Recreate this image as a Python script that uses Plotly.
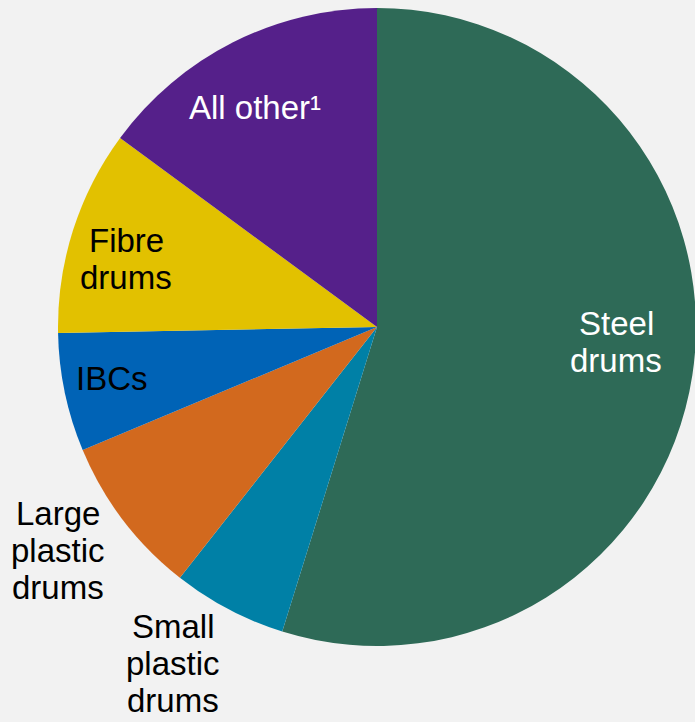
import plotly.graph_objects as go

W, H = 700, 722  # figure slightly wider than the 695px window; the overflow is clipped

categories = ["Steel drums", "Small plastic drums", "Large plastic drums", "IBCs", "Fibre drums", "All other"]
values = [54.8, 5.8, 8.1, 6.0, 10.4, 14.9]
colors = ["#2E6A57", "#0080A6", "#D2691E", "#0063B6", "#E2C100", "#55208A"]

# label lines (display text) per category
label_lines = [
    ["Steel", "drums"],
    ["Small", "plastic", "drums"],
    ["Large", "plastic", "drums"],
    ["IBCs"],
    ["Fibre", "drums"],
    ["All other\u00b9"],
]
label_colors = ["white", "black", "black", "black", "black", "white"]
# (center x px, first baseline y px)
label_pos = [(616, 335), (173, 638), (58, 525), (112, 390), (126, 252), (255, 119)]

FS = 33
LINE = 37

fig = go.Figure(go.Pie(
    labels=categories,
    values=values,
    marker=dict(colors=colors, line=dict(width=0)),
    sort=False,
    direction="clockwise",
    rotation=0,
    textinfo="none",
    hoverinfo="label+percent",
    showlegend=False,
    domain=dict(x=[58 / W, 696 / W], y=[1 - 646 / H, 1 - 8 / H]),
))

annotations = []
for lines, col, (cx, by) in zip(label_lines, label_colors, label_pos):
    for i, t in enumerate(lines):
        base = by + i * LINE
        mid = base - 0.36 * FS
        annotations.append(dict(
            x=cx / W, y=1 - mid / H, xref="paper", yref="paper",
            text=t, showarrow=False, xanchor="center", yanchor="middle",
            font=dict(family="Liberation Sans, Arial, sans-serif", size=FS, color=col),
        ))

fig.update_layout(
    width=W, height=H,
    margin=dict(l=0, r=0, t=0, b=0),
    paper_bgcolor="#F2F2F2",
    plot_bgcolor="#F2F2F2",
    annotations=annotations,
)

fig.write_html(
    "out.html",
    config={"displayModeBar": False},
    post_script="document.body.style.margin='0';document.body.style.overflow='hidden';",
)
